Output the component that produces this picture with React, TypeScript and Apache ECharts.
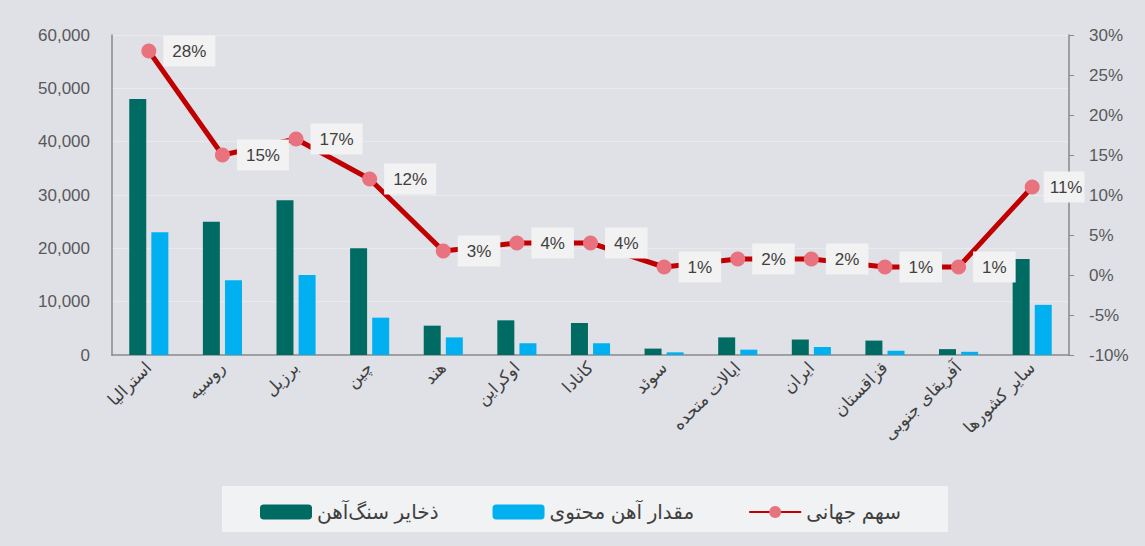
import React, { useEffect, useRef } from "react";
import * as echarts from "echarts";

const categories = [
  "استرالیا",
  "روسیه",
  "برزیل",
  "چین",
  "هند",
  "اوکراین",
  "کانادا",
  "سوئد",
  "ایالات متحده",
  "ایران",
  "قزاقستان",
  "آفریقای جنوبی",
  "سایر کشورها",
];
const reserves = [48000, 25000, 29000, 20000, 5500, 6500, 6000, 1200, 3300, 2900, 2700, 1100, 18000];
const ironContent = [23000, 14000, 15000, 7000, 3300, 2200, 2200, 500, 1000, 1500, 800, 600, 9400];
const worldShare = [28, 15, 17, 12, 3, 4, 4, 1, 2, 2, 1, 1, 11];

const seriesNames = ["ذخایر سنگ‌آهن", "مقدار آهن محتوی", "سهم جهانی"];

export default function App() {
  const ref = useRef<HTMLDivElement>(null);
  useEffect(() => {
    document.body.style.margin = "0";
    const chart = echarts.init(ref.current!, null, { renderer: "svg" });
    const font = "Arial, 'Liberation Sans', 'DejaVu Sans', sans-serif";
    const lastIdx = worldShare.length - 1;
    chart.setOption({
      animation: false,
      backgroundColor: "#dfe1e7",
      textStyle: { fontFamily: font },
      graphic: [
        {
          type: "rect",
          shape: { x: 222, y: 486, width: 726, height: 46 },
          style: { fill: "#f1f2f4" },
          z: -1,
        },
      ],
      legend: {
        left: 255,
        top: 497,
        itemWidth: 52,
        itemHeight: 15,
        itemGap: 54,
        textStyle: { fontSize: 20, color: "#404040", fontFamily: font },
        data: seriesNames,
      },
      grid: { left: 112, right: 76, top: 35, bottom: 191 },
      xAxis: {
        type: "category",
        data: categories,
        axisLine: { show: true, lineStyle: { color: "#888", width: 1.5 } },
        axisTick: { show: false },
        axisLabel: {
          rotate: 45,
          fontSize: 17,
          color: "#404040",
          margin: 10,
          interval: 0,
        },
      },
      yAxis: [
        {
          type: "value",
          min: 0,
          max: 60000,
          interval: 10000,
          axisLine: { show: true, lineStyle: { color: "#888", width: 1.5 } },
          axisTick: { show: false },
          splitLine: { show: true, lineStyle: { color: "#e8eaee", width: 1 } },
          axisLabel: {
            fontSize: 17,
            color: "#595959",
            margin: 22,
            formatter: (v: number) => v.toLocaleString("en-US"),
          },
        },
        {
          type: "value",
          min: -10,
          max: 30,
          interval: 5,
          position: "right",
          axisLine: { show: true, lineStyle: { color: "#888", width: 1.5 } },
          axisTick: { show: true, inside: false, length: 5, lineStyle: { color: "#888" } },
          splitLine: { show: false },
          axisLabel: {
            fontSize: 17,
            color: "#595959",
            margin: 20,
            formatter: "{value}%",
          },
        },
      ],
      series: [
        {
          name: seriesNames[0],
          type: "bar",
          data: reserves,
          barWidth: 17,
          barGap: "30%",
          itemStyle: { color: "#006b63" },
        },
        {
          name: seriesNames[1],
          type: "bar",
          data: ironContent,
          barWidth: 17,
          itemStyle: { color: "#00b0f0" },
        },
        {
          name: seriesNames[2],
          type: "line",
          yAxisIndex: 1,
          data: worldShare.map((v, i) =>
            i === lastIdx
              ? { value: v, label: { distance: 4, padding: [8, 2, 6, 6] } }
              : v
          ),
          symbol: "circle",
          symbolSize: 15,
          lineStyle: { color: "#c00000", width: 5 },
          itemStyle: { color: "#e8737f" },
          label: {
            show: true,
            position: "right",
            distance: 7,
            formatter: "{c}%",
            fontSize: 17,
            color: "#404040",
            backgroundColor: "#f2f2f2",
            padding: [8, 9, 6, 9],
          },
          z: 5,
        },
      ],
    });
    return () => chart.dispose();
  }, []);
  return <div ref={ref} style={{ width: 1145, height: 546 }} />;
}
